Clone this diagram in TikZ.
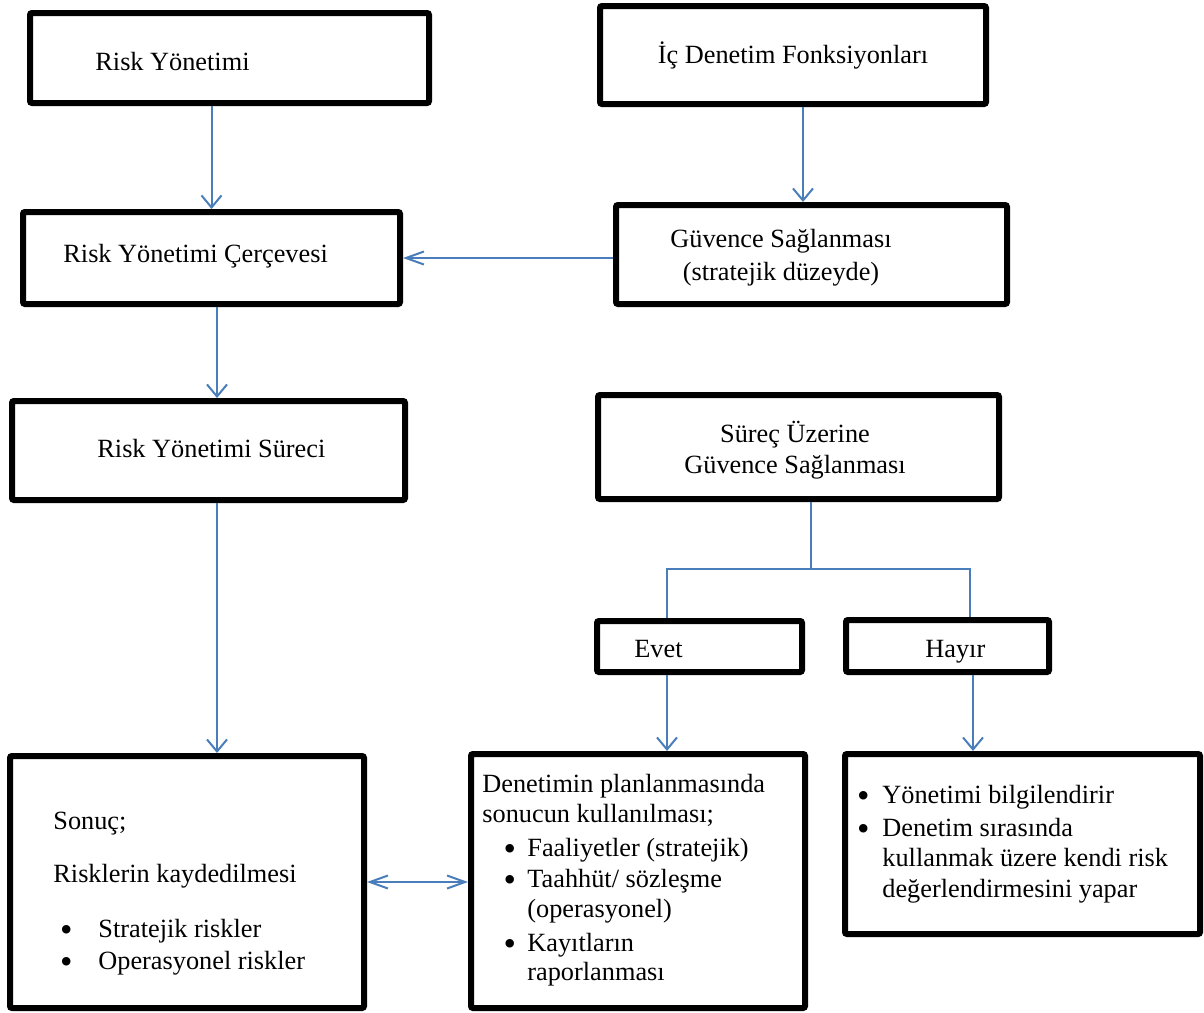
\documentclass[tikz,border=0pt]{standalone}
\usepackage{fontspec}
\setmainfont{Liberation Serif}
\usetikzlibrary{arrows.meta}

\definecolor{linkblue}{RGB}{74,126,187}
% bullet placed left of the text start: #1 indent, #2 gap
\newcommand{\blt}[2]{\hspace*{#1}\llap{\raisebox{-2.1pt}{\fontsize{17.75pt}{0pt}\selectfont\textbullet}\hspace{#2}}}

\begin{document}
\begin{tikzpicture}[x=0.5pt,y=-0.5pt,
  box/.style={draw, line width=3pt, rounded corners=1pt, inner sep=0pt},
  txt/.style={inner sep=0pt, font=\fontsize{13.15pt}{15.25pt}\selectfont},
  conn/.style={linkblue, line width=1pt},
  arrv/.style={conn, -{Straight Barb[length=6pt,width=10pt]}},
  arrh/.style={conn, -{Straight Barb[length=9pt,width=6.5pt]}},
  darr/.style={conn, {Straight Barb[length=9pt,width=6.5pt]}-{Straight Barb[length=9pt,width=6.5pt]}}]
  \useasboundingbox (0,0) rectangle (1204,1012);

  % left column
  \node[box, minimum width=199.5pt, minimum height=45pt]   (rm)    at (229.5,58)  {};
  \node[box, minimum width=188.5pt, minimum height=46pt]   (rmc)   at (211.5,258) {};
  \node[box, minimum width=196.5pt, minimum height=49.5pt] (rms)   at (208.5,450.5) {};
  \node[box, minimum width=177pt,   minimum height=126pt]  (sonuc) at (187,882)   {};

  % right column
  \node[box, minimum width=193pt,   minimum height=49pt]   (icd)   at (793,55)    {};
  \node[box, minimum width=195.5pt, minimum height=49.5pt] (guv)   at (811.5,254.5) {};
  \node[box, minimum width=200.5pt, minimum height=52pt]   (sur)   at (798.5,447) {};
  \node[box, minimum width=102.5pt, minimum height=25.5pt] (evet)  at (699.5,646.5) {};
  \node[box, minimum width=101.5pt, minimum height=26pt]   (hayir) at (947.5,646) {};
  \node[box, minimum width=167pt,   minimum height=127pt]  (plan)  at (638,881)   {};
  \node[box, minimum width=177.5pt, minimum height=90pt]   (bilgi) at (1022.5,844) {};

  % texts (multi-line ones are anchored on their last line)
  \node[txt, anchor=base west] (rmT)  at (95,70)   {Risk Yönetimi};
  \node[txt, anchor=base west] (rmcT) at (63,262)  {Risk Yönetimi Çerçevesi};
  \node[txt, anchor=base west] (rmsT) at (97,457)  {Risk Yönetimi Süreci};
  \node[txt, anchor=base]      (icdT) at (793,63)  {İç Denetim Fonksiyonları};
  \node[txt, anchor=base, align=center] (guvT) at (781,280)
    {Güvence Sağlanması\\[1.25pt](stratejik düzeyde)};
  \node[txt, anchor=base, align=center] (surT) at (795,473)
    {Süreç Üzerine\\Güvence Sağlanması};
  \node[txt, anchor=base west] (evetT)  at (634,657) {Evet};
  \node[txt, anchor=base west] (hayirT) at (925,657) {Hayır};
  \node[txt, anchor=base west, align=left] (sonucT) at (53,969)
    {Sonuç;\\[11.25pt]
     Risklerin kaydedilmesi\\[12.25pt]
     \blt{22.5pt}{12.9pt}Stratejik riskler\\[0.75pt]
     \blt{22.5pt}{12.9pt}Operasyonel riskler};
  \node[txt, anchor=base west, align=left] (planT) at (482,980)
    {Denetimin planlanmasında\\
     sonucun kullanılması;\\[1.75pt]
     \blt{22.5pt}{5.65pt}Faaliyetler (stratejik)\\
     \blt{22.5pt}{5.65pt}Taahhüt/ sözleşme\\
     \hspace*{22.5pt}(operasyonel)\\[1.75pt]
     \blt{22.5pt}{5.65pt}Kayıtların\\[-1pt]
     \hspace*{22.5pt}raporlanması};
  \node[txt, anchor=base west, align=left] (bilgiT) at (882,897)
    {\blt{0pt}{6.4pt}Yönetimi bilgilendirir\\[1pt]
     \blt{0pt}{6.4pt}Denetim sırasında\\
     kullanmak üzere kendi risk\\
     değerlendirmesini yapar};

  % connectors
  \coordinate (split) at (811,569);
  \draw[arrv] (rmc.north |- rm.south) -- (rmc.north);
  \draw[arrv] ([xshift=2.75pt]rmc.south) -- ([xshift=2.75pt]rmc.south |- rms.north);
  \draw[arrv] ([xshift=4.25pt]rms.south) -- ([xshift=4.25pt]rms.south |- sonuc.north);
  \draw[arrv] ([xshift=5pt]icd.south) -- ([xshift=5pt]icd.south |- guv.north);
  \draw[arrh] (guv.west |- rmc.east) -- (rmc.east);
  \draw[conn] ([xshift=6.25pt]sur.south) -- (split);
  \draw[conn] ([xshift=-16.25pt]evet.north) |- (split) -| ([xshift=11.25pt]hayir.north);
  \draw[arrv] ([xshift=-16.25pt]evet.south) -- ([xshift=-16.25pt]evet.south |- plan.north);
  \draw[arrv] ([xshift=12.75pt]hayir.south) -- ([xshift=12.75pt]hayir.south |- bilgi.north);
  \draw[darr] (sonuc.east) -- (sonuc.east -| plan.west);
\end{tikzpicture}
\end{document}
